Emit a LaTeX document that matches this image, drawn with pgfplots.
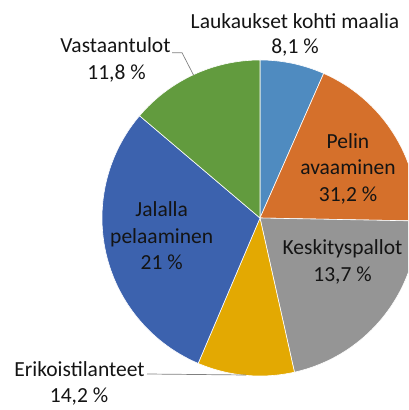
\documentclass[border=0pt]{standalone}
\usepackage{pgfplots}
\pgfplotsset{compat=1.18}
\usepackage{fontspec}
\setmainfont{Carlito}
\definecolor{cA}{HTML}{4F8BC0}
\definecolor{cB}{HTML}{D5702B}
\definecolor{cC}{HTML}{959595}
\definecolor{cD}{HTML}{E3A902}
\definecolor{cE}{HTML}{3C62AE}
\definecolor{cF}{HTML}{629B3E}
\definecolor{txt}{HTML}{141414}
\definecolor{lead}{HTML}{808080}
\begin{document}
\begin{tikzpicture}
\path[use as bounding box] (0,0) rectangle (408pt,410pt);
\clip (0,0) rectangle (408pt,410pt);
% slice shares (percent of full circle), clockwise from 12 o'clock
\pgfmathsetmacro\aO{90}
\pgfmathsetmacro\aA{\aO-3.6*6.6}
\pgfmathsetmacro\aB{\aA-3.6*18.7}
\pgfmathsetmacro\aC{\aB-3.6*21.2}
\pgfmathsetmacro\aD{\aC-3.6*9.9}
\pgfmathsetmacro\aE{\aD-3.6*29.8}
\pgfmathsetmacro\aF{\aE-3.6*13.8}
\begin{axis}[hide axis, scale only axis, width=408pt, height=410pt,
  xmin=0, xmax=408, ymin=0, ymax=410, clip=true]
\fill[cA, draw=white, line width=0.6pt] (axis cs:260,192) -- ++(\aO:158pt) arc[start angle=\aO, end angle=\aA, radius=158pt] -- cycle;
\fill[cB, draw=white, line width=0.6pt] (axis cs:260,192) -- ++(\aA:158pt) arc[start angle=\aA, end angle=\aB, radius=158pt] -- cycle;
\fill[cC, draw=white, line width=0.6pt] (axis cs:260,192) -- ++(\aB:158pt) arc[start angle=\aB, end angle=\aC, radius=158pt] -- cycle;
\fill[cD, draw=white, line width=0.6pt] (axis cs:260,192) -- ++(\aC:158pt) arc[start angle=\aC, end angle=\aD, radius=158pt] -- cycle;
\fill[cE, draw=white, line width=0.6pt] (axis cs:260,192) -- ++(\aD:158pt) arc[start angle=\aD, end angle=\aE, radius=158pt] -- cycle;
\fill[cF, draw=white, line width=0.6pt] (axis cs:260,192) -- ++(\aE:158pt) arc[start angle=\aE, end angle=\aF, radius=158pt] -- cycle;
% leader lines
\draw[lead, line width=0.7pt] (axis cs:172,357.3) -- (axis cs:182,357.3) -- (axis cs:193.5,335);
\draw[lead, line width=0.7pt] (axis cs:147,36) -- (axis cs:246,35);
% labels
\tikzset{lbl/.style={anchor=base, inner sep=0pt, text=txt, font=\fontsize{21.5}{25}\selectfont}}
\node[lbl] at (axis cs:295,381.7) {Laukaukset kohti maalia};
\node[lbl] at (axis cs:295,356.7) {8,1 \%};
\node[lbl] at (axis cs:115.5,357.3) {Vastaantulot};
\node[lbl] at (axis cs:116.5,330.7) {11,8 \%};
\node[lbl] at (axis cs:79.5,33.3) {Erikoistilanteet};
\node[lbl] at (axis cs:79,7) {14,2 \%};
\node[lbl] at (axis cs:348,261.7) {Pelin};
\node[lbl] at (axis cs:348,235) {avaaminen};
\node[lbl] at (axis cs:348,208.3) {31,2 \%};
\node[lbl] at (axis cs:342.5,155) {Keskityspallot};
\node[lbl] at (axis cs:342.5,128.3) {13,7 \%};
\node[lbl] at (axis cs:161.7,193.3) {Jalalla};
\node[lbl] at (axis cs:161.7,166.7) {pelaaminen};
\node[lbl] at (axis cs:161.7,140) {21 \%};
\end{axis}
\end{tikzpicture}
\end{document}
